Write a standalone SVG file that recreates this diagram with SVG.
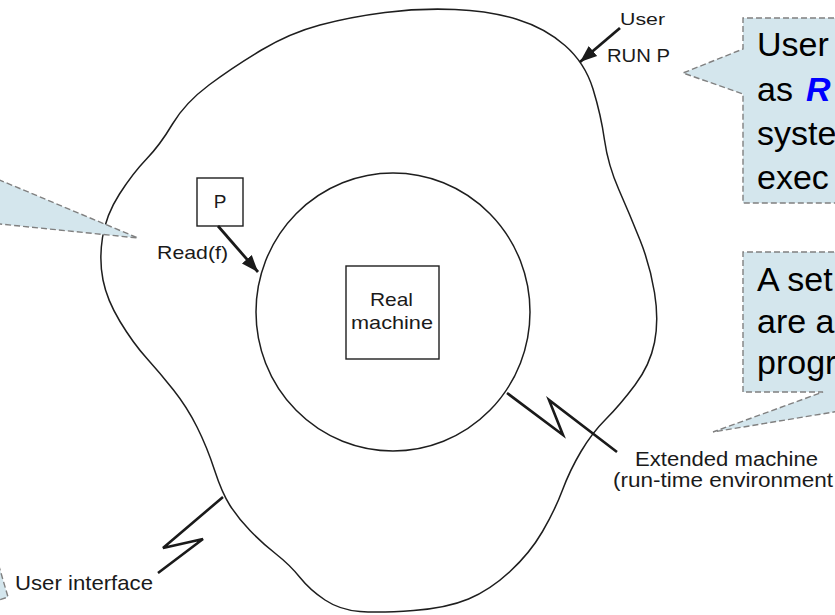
<svg xmlns="http://www.w3.org/2000/svg" width="835" height="615" viewBox="0 0 835 615">
  <style>
    .ink { fill: none; stroke: #1e1e1e; stroke-width: 1.5; stroke-linejoin: round; stroke-linecap: round; }
    .bolt { fill: none; stroke: #1a1a1a; stroke-width: 2.6; stroke-linejoin: miter; stroke-linecap: butt; }
    .arrow { fill: none; stroke: #1a1a1a; stroke-width: 2.8; }
    .box { fill: #ffffff; stroke: #1e1e1e; stroke-width: 1.4; }
    .lbl { font-family: "Liberation Sans", Arial, Helvetica, sans-serif; fill: #1a1a1a; }
    .call { fill: #d4e6ed; stroke: #808080; stroke-width: 1.4; stroke-dasharray: 6 3; }
    .ctext { font-family: "Liberation Sans", Arial, Helvetica, sans-serif; font-size: 34px; fill: #000000; }
    .hl { fill: #0000ff; font-weight: bold; font-style: italic; }
  </style>
  <defs>
    <marker id="head" markerUnits="userSpaceOnUse" markerWidth="18" markerHeight="16" refX="17" refY="8" orient="auto">
      <path d="M0,1.5 L17,8 L0,14.5 Z" fill="#1a1a1a"/>
    </marker>
  </defs>

  <rect width="835" height="615" fill="#ffffff"/>

  <!-- Extended machine: the irregular outer boundary -->
  <g id="extended-machine">
    <path class="ink" d="M385,12.5 Q420,8 455,9.5 Q490,11 517.5,19.5 Q545,28 565,45.5 Q585,63 593,89 Q601,115 604.5,140 Q608,165 619,190 Q630,215 640,240 Q650,265 654.5,292.5 Q659,320 654.5,342.5 Q650,365 635,385 Q620,405 606,419 Q592,433 581,451.5 Q570,470 562.5,490 Q555,510 542.5,531.5 Q530,553 510,571.5 Q490,590 468.5,599 Q447,608 413.5,610.5 Q380,613 360,611.5 Q340,610 325,600 Q310,590 300,577.5 Q290,565 276,554 Q262,543 250,530.5 Q238,518 230,505.5 Q222,493 214.5,470 Q207,447 197,427 Q187,407 173.5,390 Q160,373 146.5,358 Q133,343 120,321.5 Q107,300 103,280 Q99,260 102.5,237.5 Q106,215 119.5,194 Q133,173 146.5,159 Q160,145 172.5,124 Q185,103 209,85 Q233,67 261.5,50 Q290,33 320,25 Q350,17 385,12.5 Z"/>
  </g>

  <!-- Real machine: inner circle with its box -->
  <g id="real-machine">
    <ellipse class="ink" cx="393" cy="312" rx="137" ry="139"/>
    <rect class="box" x="346" y="266" width="93" height="93"/>
    <text class="lbl" x="370" y="306" font-size="19" textLength="43" lengthAdjust="spacingAndGlyphs">Real</text>
    <text class="lbl" x="351" y="329" font-size="19" textLength="82" lengthAdjust="spacingAndGlyphs">machine</text>
  </g>

  <!-- Program P -->
  <g id="program-p">
    <rect class="box" x="197" y="178" width="46" height="48"/>
    <text class="lbl" x="220" y="208" font-size="19" text-anchor="middle">P</text>
  </g>

  <!-- Connectors -->
  <g id="connectors">
    <line class="arrow" x1="218" y1="226" x2="258" y2="272" marker-end="url(#head)"/>
    <line class="arrow" x1="620" y1="28" x2="580" y2="62" marker-end="url(#head)"/>
    <path class="bolt" d="M507,393 L563,435 L549,400 L617,452"/>
    <path class="bolt" d="M223,497 L163,548 L203,539 L158,573"/>
  </g>

  <!-- Labels -->
  <g id="labels">
    <text class="lbl" x="620" y="25" font-size="17" textLength="45" lengthAdjust="spacingAndGlyphs">User</text>
    <text class="lbl" x="607" y="62" font-size="18" textLength="63" lengthAdjust="spacingAndGlyphs">RUN P</text>
    <text class="lbl" x="157" y="259" font-size="19" textLength="71" lengthAdjust="spacingAndGlyphs">Read(f)</text>
    <text class="lbl" x="635" y="466" font-size="20" textLength="183" lengthAdjust="spacingAndGlyphs">Extended machine</text>
    <text class="lbl" x="613" y="487" font-size="20" textLength="220" lengthAdjust="spacingAndGlyphs">(run-time environment</text>
    <text class="lbl" x="15" y="590" font-size="21" textLength="138" lengthAdjust="spacingAndGlyphs">User interface</text>
  </g>

  <!-- Callouts -->
  <g id="callout-run">
    <path class="call" d="M870,18 H743 V49 L683,73 L743,94 V203 H870"/>
    <text class="ctext" x="757" y="56">User</text>
    <text class="ctext" x="757" y="101">as <tspan class="hl" x="806">R</tspan></text>
    <text class="ctext" x="757" y="145">syste</text>
    <text class="ctext" x="757" y="189">exec</text>
  </g>

  <g id="callout-set">
    <path class="call" d="M870,252 H743 V392 H823 L713,432 L870,406"/>
    <text class="ctext" x="757" y="291">A set</text>
    <text class="ctext" x="757" y="333">are a</text>
    <text class="ctext" x="757" y="374">progr</text>
  </g>

  <g id="callout-left">
    <path class="call" d="M-10,176 L138,238 L-10,223"/>
  </g>

  <g id="callout-bottom">
    <path class="call" d="M-4,556 L8,597 L-4,601"/>
  </g>
</svg>
